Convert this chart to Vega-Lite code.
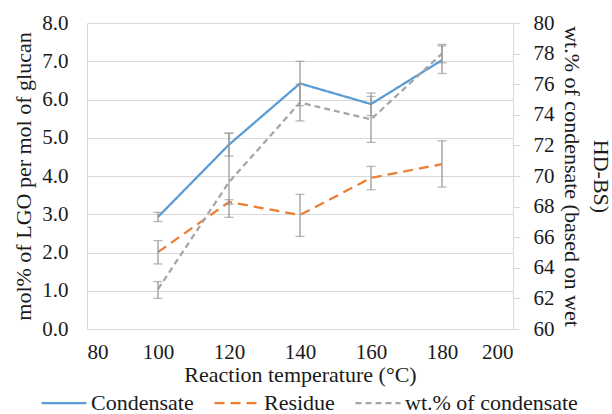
{
  "$schema": "https://vega.github.io/schema/vega-lite/v6.json",
  "width": 426,
  "height": 306,
  "autosize": {"type": "none"},
  "padding": {"left": 87, "top": 23, "right": 99, "bottom": 85},
  "background": "white",
  "config": {
    "view": {"stroke": null},
    "font": "Liberation Serif, DejaVu Serif, serif",
    "axis": {
      "labelFont": "Liberation Serif, DejaVu Serif, serif",
      "labelFontSize": 21,
      "labelColor": "#1a1a1a",
      "labelOverlap": false,
      "titleFont": "Liberation Serif, DejaVu Serif, serif",
      "titleFontSize": 22,
      "titleFontWeight": "normal",
      "titleColor": "#1a1a1a",
      "domainColor": "#d9d9d9",
      "gridColor": "#d9d9d9",
      "tickColor": "#d9d9d9"
    },
    "legend": {
      "labelFont": "Liberation Serif, DejaVu Serif, serif",
      "labelFontSize": 22,
      "labelColor": "#1a1a1a",
      "labelLimit": 300
    }
  },
  "datasets": {
    "lgo": [
      {"series": "Condensate", "temp": 100, "value": 2.93, "lo": 2.81, "hi": 3.05},
      {"series": "Condensate", "temp": 120, "value": 4.82, "lo": 4.52, "hi": 5.12},
      {"series": "Condensate", "temp": 140, "value": 6.42, "lo": 5.84, "hi": 7.0},
      {"series": "Condensate", "temp": 160, "value": 5.88, "lo": 5.58, "hi": 6.17},
      {"series": "Condensate", "temp": 180, "value": 7.03, "lo": 6.68, "hi": 7.4},
      {"series": "Residue", "temp": 100, "value": 2.01, "lo": 1.7, "hi": 2.31},
      {"series": "Residue", "temp": 120, "value": 3.32, "lo": 3.26, "hi": 3.38},
      {"series": "Residue", "temp": 140, "value": 2.98, "lo": 2.42, "hi": 3.52},
      {"series": "Residue", "temp": 160, "value": 3.95, "lo": 3.64, "hi": 4.25},
      {"series": "Residue", "temp": 180, "value": 4.31, "lo": 3.71, "hi": 4.92}
    ],
    "wt": [
      {"series": "wt.% of condensate", "temp": 100, "value": 62.6, "lo": 62.0, "hi": 63.1},
      {"series": "wt.% of condensate", "temp": 120, "value": 69.6, "lo": 67.3, "hi": 72.8},
      {"series": "wt.% of condensate", "temp": 140, "value": 74.8, "lo": 73.6, "hi": 76.0},
      {"series": "wt.% of condensate", "temp": 160, "value": 73.7, "lo": 72.2, "hi": 75.2},
      {"series": "wt.% of condensate", "temp": 180, "value": 78.0, "lo": 77.4, "hi": 78.6}
    ]
  },
  "layer": [
    {
      "data": {"name": "lgo"},
      "layer": [
        {
          "mark": {"type": "line", "strokeWidth": 2.25},
          "encoding": {
            "x": {
              "field": "temp", "type": "quantitative",
              "scale": {"domain": [80, 200], "nice": false, "zero": false},
              "axis": {
                "values": [80, 100, 120, 140, 160, 180, 200], "labelOverlap": false,
                "grid": false, "ticks": false, "labelPadding": 12,
                "title": "Reaction temperature (°C)", "titlePadding": 2
              }
            },
            "y": {
              "field": "value", "type": "quantitative",
              "scale": {"domain": [0, 8], "nice": false},
              "axis": {
                "values": [0, 1, 2, 3, 4, 5, 6, 7, 8], "format": ".1f", "labelOverlap": false,
                "grid": true, "ticks": false, "labelPadding": 19,
                "title": "mol% of LGO per mol of glucan", "titlePadding": 6
              }
            },
            "color": {
              "field": "series", "type": "nominal",
              "scale": {
                "domain": ["Condensate", "Residue", "wt.% of condensate"],
                "range": ["#5b9bd5", "#ed7d31", "#a5a5a5"]
              },
              "legend": {
                "orient": "none", "direction": "horizontal", "title": null,
                "legendX": -47, "legendY": 356, "padding": 0,
                "symbolType": "stroke", "symbolSize": 2025, "symbolStrokeWidth": 2.25,
                "labelOffset": 3, "columnPadding": 16
              }
            },
            "strokeDash": {
              "field": "series", "type": "nominal",
              "scale": {
                "domain": ["Condensate", "Residue", "wt.% of condensate"],
                "range": [[1, 0], [10, 6], [6, 4]]
              },
              "legend": {
                "orient": "none", "direction": "horizontal", "title": null,
                "legendX": -47, "legendY": 356, "padding": 0,
                "symbolType": "stroke", "symbolSize": 2025, "symbolStrokeWidth": 2.25,
                "labelOffset": 3, "columnPadding": 16
              }
            }
          }
        },
        {
          "mark": {"type": "errorbar", "ticks": {"size": 9, "color": "#999999"}, "rule": {"color": "#999999"}, "color": "#999999", "thickness": 1.3},
          "encoding": {
            "x": {"field": "temp", "type": "quantitative"},
            "y": {
              "field": "lo", "type": "quantitative",
              "axis": {
                "values": [0, 1, 2, 3, 4, 5, 6, 7, 8], "format": ".1f", "labelOverlap": false,
                "grid": true, "ticks": false, "labelPadding": 19,
                "title": "mol% of LGO per mol of glucan", "titlePadding": 6
              }
            },
            "y2": {"field": "hi"}
          }
        }
      ]
    },
    {
      "data": {"name": "wt"},
      "layer": [
        {
          "mark": {"type": "line", "strokeWidth": 2.25},
          "encoding": {
            "x": {"field": "temp", "type": "quantitative"},
            "y": {
              "field": "value", "type": "quantitative",
              "scale": {"domain": [60, 80], "nice": false, "zero": false},
              "axis": {
                "orient": "right", "labelOverlap": false,
                "values": [60, 62, 64, 66, 68, 70, 72, 74, 76, 78, 80],
                "grid": false, "ticks": true, "tickSize": 7, "labelPadding": 13,
                "title": ["HD-BS)", "wt.% of condensate (based on wet"],
                "titleLineHeight": 29, "titlePadding": 5
              }
            },
            "color": {"field": "series", "type": "nominal"},
            "strokeDash": {"field": "series", "type": "nominal"}
          }
        },
        {
          "mark": {"type": "errorbar", "ticks": {"size": 9, "color": "#999999"}, "rule": {"color": "#999999"}, "color": "#999999", "thickness": 1.3},
          "encoding": {
            "x": {"field": "temp", "type": "quantitative"},
            "y": {
              "field": "lo", "type": "quantitative",
              "axis": {
                "orient": "right", "labelOverlap": false,
                "values": [60, 62, 64, 66, 68, 70, 72, 74, 76, 78, 80],
                "grid": false, "ticks": true, "tickSize": 7, "labelPadding": 13,
                "title": ["HD-BS)", "wt.% of condensate (based on wet"],
                "titleLineHeight": 29, "titlePadding": 5
              }
            },
            "y2": {"field": "hi"}
          }
        }
      ]
    }
  ],
  "resolve": {"scale": {"y": "independent"}}
}
